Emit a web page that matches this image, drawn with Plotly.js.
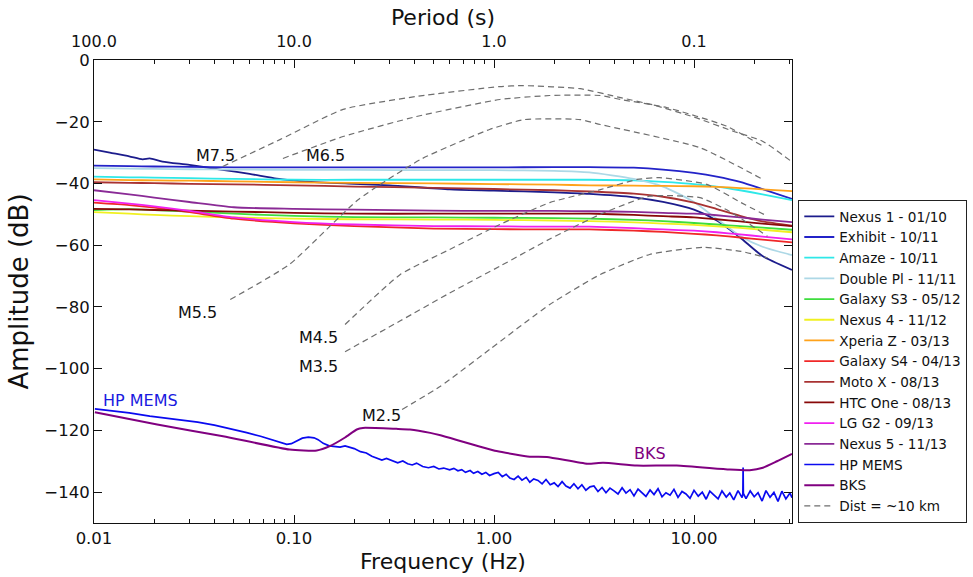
<!DOCTYPE html>
<html>
<head>
<meta charset="utf-8">
<script src="https://cdn.plot.ly/plotly-3.0.1.min.js"></script>
<style>html,body{margin:0;padding:0;background:#fff;}#chart{width:973px;height:577px;}</style>
</head>
<body>
<div id="chart"></div>
<script>
// ---------- data (frequency in Hz, amplitude in dB) ----------
const FREQ = [0.01, 0.015, 0.02, 0.03, 0.05, 0.1, 0.2, 0.5, 1, 2, 3, 5, 7, 10, 13, 17, 22, 30.9];

const NEXUS1_F  = [0.01, 0.012, 0.015, 0.0175, 0.019, 0.022, 0.03, 0.043, 0.06, 0.082, 0.1, 0.116, 0.2, 0.3, 0.6, 1, 2, 3, 5, 7, 10, 13, 17, 22, 30.9];
const NEXUS1_DB = [-29.0, -30.0, -31.2, -32.2, -31.9, -32.9, -34.0, -35.5, -36.9, -38.4, -39.0, -39.4, -40.1, -40.6, -41.9, -42.3, -42.9, -43.4, -44.5, -46.0, -48.5, -52.0, -57.5, -63.5, -68.0];

const EXHIBIT   = [-34.2, -34.4, -34.5, -34.6, -34.8, -34.8, -34.8, -34.8, -34.8, -34.7, -34.7, -34.9, -35.5, -36.6, -37.8, -39.5, -41.8, -45.0];
const AMAZE     = [-37.8, -38.0, -38.1, -38.3, -38.5, -38.8, -38.8, -38.8, -38.8, -38.8, -38.8, -39.0, -39.5, -40.2, -41.0, -42.2, -43.5, -45.4];
const DOUBLEPL  = [-35.0, -35.2, -35.3, -35.4, -35.5, -35.6, -35.6, -35.7, -35.7, -35.9, -36.4, -38.5, -41.0, -46.0, -51.5, -57.0, -60.5, -63.2];
const GALAXYS3  = [-48.6, -48.3, -48.6, -49.1, -49.8, -50.5, -50.9, -51.0, -51.1, -51.2, -51.4, -51.8, -52.2, -52.8, -53.3, -53.8, -54.3, -55.0];
const NEXUS4    = [-49.3, -49.8, -50.2, -50.6, -51.0, -51.4, -51.6, -51.7, -51.8, -52.0, -52.2, -52.6, -53.0, -53.4, -53.9, -54.4, -55.0, -55.8];
const XPERIAZ   = [-38.7, -38.9, -39.0, -39.1, -39.3, -39.6, -39.8, -40.0, -40.2, -40.4, -40.6, -40.7, -40.8, -40.9, -41.1, -41.5, -41.9, -42.5];
const GALAXYS4  = [-46.2, -47.0, -47.8, -49.3, -51.4, -52.9, -53.8, -54.6, -54.8, -54.9, -54.9, -55.3, -55.7, -56.3, -56.8, -57.5, -58.2, -59.1];
const MOTOX     = [-39.6, -39.8, -39.9, -40.1, -40.3, -40.6, -41.0, -41.4, -41.8, -42.2, -42.6, -43.3, -44.3, -46.2, -48.3, -50.5, -52.3, -53.7];
const HTCONE    = [-48.2, -48.4, -48.6, -48.8, -49.1, -49.5, -49.8, -49.8, -49.8, -49.8, -49.8, -50.2, -50.6, -51.0, -51.6, -52.3, -53.0, -53.8];
const LGG2      = [-45.4, -46.5, -47.4, -48.9, -51.0, -52.5, -53.3, -53.8, -53.9, -54.0, -54.0, -54.5, -54.9, -55.3, -55.8, -56.5, -57.2, -58.1];
const NEXUS5    = [-42.2, -43.5, -44.6, -46.0, -47.7, -48.2, -48.5, -48.8, -48.9, -48.9, -49.0, -49.2, -49.5, -49.8, -50.3, -51.0, -51.7, -52.5];

const HPMEMS_F = [0.0101, 0.0125, 0.015, 0.019, 0.025, 0.033, 0.04, 0.048, 0.058, 0.068, 0.078, 0.086, 0.092, 0.097, 0.103, 0.11, 0.118, 0.126, 0.132, 0.14, 0.15, 0.16, 0.17, 0.18, 0.19, 0.2, 0.215, 0.23, 0.245, 0.26, 0.275, 0.29, 0.31, 0.33, 0.35, 0.37, 0.39, 0.41, 0.44, 0.47, 0.5, 0.53, 0.56,
  0.60, 0.63, 0.66, 0.69, 0.72, 0.76, 0.79, 0.83, 0.87, 0.91, 0.95, 1.0, 1.05, 1.10, 1.15, 1.20, 1.26, 1.32, 1.38, 1.45, 1.51, 1.58, 1.66, 1.74, 1.82, 1.91, 2.0, 2.09, 2.19, 2.29, 2.40, 2.51, 2.63, 2.75, 2.88, 3.02, 3.16, 3.31, 3.47, 3.63, 3.80, 3.98, 4.17, 4.37, 4.57, 4.79, 5.01, 5.25, 5.50, 5.75, 6.03, 6.31, 6.61, 6.92, 7.24, 7.59, 7.94, 8.32, 8.71, 9.12, 9.55, 10.0, 10.5, 11.0, 11.5, 12.0, 12.6, 13.2, 13.8, 14.5, 15.1, 15.8, 16.6, 17.4, 17.55, 17.6, 17.65, 18.2, 19.1, 20.0, 20.9, 21.9, 22.9, 24.0, 25.1, 26.3, 27.5, 28.8, 30.2, 30.9];
const HPMEMS_DB = [-113.0, -113.6, -114.3, -115.4, -116.3, -117.3, -118.3, -119.4, -120.7, -121.9, -123.1, -124.0, -124.5, -124.3, -123.4, -122.5, -122.2, -122.4, -123.0, -124.2, -125.0, -125.3, -125.4, -125.0, -125.4, -125.9, -126.9, -127.3, -128.4, -128.9, -129.6, -129.1, -129.9, -130.5, -129.9, -130.8, -131.2, -130.6, -131.7, -132.1, -131.7, -132.5, -132.2,
  -132.8, -132.3, -133.1, -132.7, -133.6, -133.0, -133.9, -133.3, -134.2, -133.6, -134.6, -134.0, -133.6, -135.0, -134.2, -135.4, -135.9, -134.8, -136.1, -135.2, -136.8, -135.7, -136.2, -137.3, -135.9, -137.6, -137.0, -138.2, -136.6, -138.0, -138.7, -137.3, -138.9, -137.6, -139.4, -138.3, -138.0, -139.8, -138.5, -140.2, -138.7, -139.6, -140.6, -138.6, -140.3, -139.2, -141.2, -139.0, -140.1, -141.4, -139.3, -140.8, -138.9, -141.5, -140.2, -141.0, -139.1, -141.7, -139.8, -140.6, -142.0, -139.4, -141.3, -140.0, -142.3, -139.7, -141.0, -142.2, -139.6, -141.6, -140.3, -142.5, -139.5, -141.8, -140.6, -132.0, -140.4, -142.1, -139.6, -141.5, -140.2, -142.9, -139.5, -141.7, -140.1, -143.0, -139.7, -142.2, -140.3, -141.8];

const BKS_F  = [0.0101, 0.0207, 0.0442, 0.095, 0.13, 0.151, 0.18, 0.206, 0.221, 0.325, 0.38, 0.48, 0.54, 1.03, 1.51, 1.84, 2.93, 3.51, 5.18, 8.2, 15.1, 19.0, 22.1, 26.0, 30.9];
const BKS_DB = [-114.1, -118.1, -121.9, -126.2, -126.5, -125.1, -122.3, -119.7, -119.2, -119.5, -119.7, -120.8, -121.6, -126.7, -128.5, -128.6, -130.8, -130.5, -131.4, -131.4, -132.7, -132.9, -132.1, -130.0, -127.6];

const M75_F  = [0.044, 0.085, 0.176, 0.41, 1.07, 1.4, 2.7, 4.3, 6.2, 10, 15.6, 22, 30.9];
const M75_DB = [-34.5, -25.8, -16.0, -11.8, -8.6, -8.3, -9.3, -12.2, -14.5, -18.5, -23.0, -26.3, -33.0];
const M65_F  = [0.088, 0.176, 0.41, 1.07, 1.9, 3.4, 4.3, 7.3, 14.5, 22.1];
const M65_DB = [-31.9, -24.8, -18.3, -12.8, -11.5, -11.5, -12.8, -15.4, -21.4, -27.9];
const M55_F  = [0.048, 0.095, 0.21, 0.43, 0.95, 1.42, 2.7, 3.4, 10.7, 22.1];
const M55_DB = [-77.6, -66.2, -45.2, -32.2, -22.5, -19.3, -19.3, -20.9, -28.4, -38.7];
const M45_F  = [0.18, 0.34, 0.6, 1.07, 1.9, 3.4, 5.2, 6.7, 11.6, 17.2, 23.3];
const M45_DB = [-85.7, -69.5, -61.4, -53.3, -46.2, -42.0, -38.7, -38.1, -40.3, -46.2, -50.6];
const M35_F  = [0.18, 0.34, 0.6, 1.07, 1.9, 3.4, 6.0, 10.7, 15.0, 23.3];
const M35_DB = [-94.5, -84.5, -75.5, -66.8, -58.0, -50.0, -44.1, -44.6, -49.0, -57.1];
const M25_F  = [0.347, 0.54, 0.95, 1.9, 3.4, 6.0, 11.1, 17.2, 23.3];
const M25_DB = [-113.2, -105.7, -93.8, -79.2, -69.5, -63.0, -60.7, -62.0, -64.1];

const MAG_LABELS   = ['M7.5', 'M6.5', 'M5.5', 'M4.5', 'M3.5', 'M2.5'];
const MAG_LABEL_F  = [0.0403, 0.143, 0.0331, 0.132, 0.132, 0.275];
const MAG_LABEL_DB = [-30.9, -30.9, -81.8, -89.9, -99.3, -115.2];

const X_TICKS      = [0.01, 0.1, 1, 10];
const X_TICKTEXT   = ['0.01', '0.10', '1.00', '10.00'];
const TOP_TICKTEXT = ['100.0', '10.0', '1.0', '0.1'];
const MINOR_TICKS  = [0.02, 0.03, 0.04, 0.05, 0.06, 0.07, 0.08, 0.09, 0.2, 0.3, 0.4, 0.5, 0.6, 0.7, 0.8, 0.9, 2, 3, 4, 5, 6, 7, 8, 9, 20, 30];

// ---------- traces ----------
const FONT = 'DejaVu Sans, Verdana, sans-serif';
function dev(name, x, y, color) {
  return {type: 'scatter', mode: 'lines', name: name, x: x, y: y,
          line: {color: color, width: 1.8, shape: 'spline', smoothing: 0.6}, hoverinfo: 'skip'};
}
const traces = [
  dev('Nexus 1 - 01/10', NEXUS1_F, NEXUS1_DB, '#1c1c8c'),
  dev('Exhibit - 10/11', FREQ, EXHIBIT, '#2323c8'),
  dev('Amaze - 10/11', FREQ, AMAZE, '#2ee8e8'),
  dev('Double Pl - 11/11', FREQ, DOUBLEPL, '#add8e6'),
  dev('Galaxy S3 - 05/12', FREQ, GALAXYS3, '#3ddd3d'),
  dev('Nexus 4 - 11/12', FREQ, NEXUS4, '#f0f020'),
  dev('Xperia Z - 03/13', FREQ, XPERIAZ, '#ffa21a'),
  dev('Galaxy S4 - 04/13', FREQ, GALAXYS4, '#f02828'),
  dev('Moto X - 08/13', FREQ, MOTOX, '#a83232'),
  dev('HTC One - 08/13', FREQ, HTCONE, '#880808'),
  dev('LG G2 - 09/13', FREQ, LGG2, '#f020f0'),
  dev('Nexus 5 - 11/13', FREQ, NEXUS5, '#8a2a96'),
  {type: 'scatter', mode: 'lines', name: 'HP MEMS', x: HPMEMS_F, y: HPMEMS_DB,
   line: {color: '#0a0af0', width: 1.7}, hoverinfo: 'skip'},
  {type: 'scatter', mode: 'lines', name: 'BKS', x: BKS_F, y: BKS_DB,
   line: {color: '#800080', width: 2, shape: 'spline', smoothing: 0.5}, hoverinfo: 'skip'}
];
const distSets = [[M75_F, M75_DB], [M65_F, M65_DB], [M55_F, M55_DB], [M45_F, M45_DB], [M35_F, M35_DB], [M25_F, M25_DB]];
distSets.forEach(function (d, i) {
  traces.push({type: 'scatter', mode: 'lines', name: 'Dist = ~10 km', legendgroup: 'dist',
    showlegend: i === 0, x: d[0], y: d[1], hoverinfo: 'skip',
    line: {color: '#6e6e6e', width: 1.2, dash: '6px,4px', shape: 'spline', smoothing: 0.5}});
});
// helper trace so that the top (period) axis is drawn
traces.push({type: 'scatter', mode: 'lines', x: [], y: [], xaxis: 'x2', yaxis: 'y', showlegend: false, hoverinfo: 'skip'});

// ---------- annotations ----------
const annotations = MAG_LABELS.map(function (t, i) {
  return {x: Math.log10(MAG_LABEL_F[i]), y: MAG_LABEL_DB[i], xref: 'x', yref: 'y', text: t,
          showarrow: false, font: {family: FONT, size: 16, color: '#111'}};
});
annotations.push({x: Math.log10(0.017), y: -110.3, xref: 'x', yref: 'y', text: 'HP MEMS', showarrow: false,
                  font: {family: FONT, size: 16, color: '#1a1ae0'}});
annotations.push({x: Math.log10(6.0), y: -127.5, xref: 'x', yref: 'y', text: 'BKS', showarrow: false,
                  font: {family: FONT, size: 16, color: '#800080'}});

const XRANGE = [-2, 1.49];
const layout = {
  width: 973, height: 577,
  margin: {l: 94, r: 181, t: 60, b: 54, autoexpand: false},
  paper_bgcolor: '#fff', plot_bgcolor: '#fff',
  font: {family: FONT, color: '#111', size: 16},
  title: {text: 'Period (s)', font: {family: FONT, size: 22, color: '#111'},
          xref: 'paper', x: 0.5, xanchor: 'center', yref: 'container', y: 1 - 17 / 577, yanchor: 'middle'},
  showlegend: true,
  legend: {x: 1.009, xanchor: 'left', y: 0, yanchor: 'bottom', bgcolor: '#fff',
           bordercolor: '#222', borderwidth: 1, font: {family: FONT, size: 13.6, color: '#111'},
           tracegroupgap: 0},
  xaxis: {type: 'log', range: XRANGE, autorange: false, showgrid: false, zeroline: false,
          showline: true, linecolor: '#111', linewidth: 1, mirror: 'ticks',
          tickmode: 'array', tickvals: X_TICKS, ticktext: X_TICKTEXT,
          ticks: 'inside', ticklen: 8, tickwidth: 1, tickcolor: '#111',
          minor: {tickmode: 'array', tickvals: MINOR_TICKS, ticks: 'inside', ticklen: 4, tickcolor: '#111', showgrid: false},
          tickfont: {family: FONT, size: 16.5},
          title: {text: 'Frequency (Hz)', font: {family: FONT, size: 22}, standoff: 6}},
  xaxis2: {type: 'log', range: XRANGE, autorange: false, overlaying: 'x', side: 'top', anchor: 'y',
           showgrid: false, zeroline: false, showline: false, ticks: '', ticklabelstandoff: 9,
           tickmode: 'array', tickvals: X_TICKS, ticktext: TOP_TICKTEXT,
           tickfont: {family: FONT, size: 16}},
  yaxis: {range: [-150, 0], autorange: false, showgrid: false, zeroline: false,
          showline: true, linecolor: '#111', linewidth: 1, mirror: 'ticks',
          tick0: 0, dtick: 20, ticks: 'inside', ticklen: 8, tickwidth: 1, tickcolor: '#111',
          tickfont: {family: FONT, size: 16.5},
          title: {text: 'Amplitude (dB)', font: {family: FONT, size: 26}, standoff: 8}},
  annotations: annotations
};

Plotly.newPlot('chart', traces, layout, {displayModeBar: false, staticPlot: true});
</script>
</body>
</html>
